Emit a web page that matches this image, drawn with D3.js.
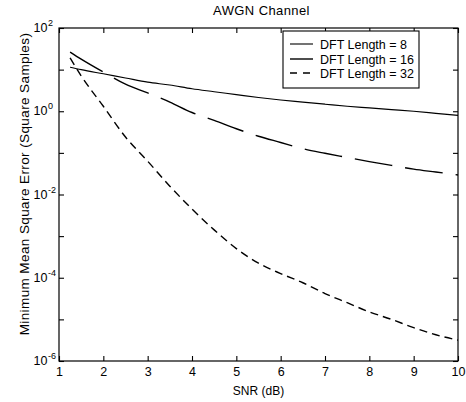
<!DOCTYPE html>
<html><head><meta charset="utf-8">
<script src="https://cdn.jsdelivr.net/npm/d3@7/dist/d3.min.js"></script>
<style>
body{margin:0;background:#fff;}
svg{display:block;font-family:"Liberation Sans",Arial,sans-serif;}
</style></head>
<body><svg id="c" width="466" height="402"></svg>
<script>
// ---- data ----
const snr = [1.25, 1.5, 2, 2.5, 3, 3.5, 4, 4.5, 5, 5.5, 6, 6.5, 7, 7.5, 8, 8.5, 9, 9.5, 10];
const log8  = [1.06, 1.0, 0.9, 0.8, 0.7, 0.63, 0.54, 0.47, 0.4, 0.33, 0.27, 0.22, 0.17, 0.12, 0.08, 0.04, 0.0, -0.05, -0.1];
const log16 = [1.42, 1.25, 0.94, 0.65, 0.44, 0.22, -0.03, -0.22, -0.42, -0.6, -0.75, -0.9, -1.01, -1.11, -1.21, -1.3, -1.39, -1.46, -1.53];
const log32 = [1.28, 0.85, 0.12, -0.62, -1.2, -1.8, -2.35, -2.85, -3.3, -3.65, -3.9, -4.12, -4.38, -4.6, -4.82, -5.0, -5.2, -5.37, -5.5];
const seriesNames = ["DFT Length = 8", "DFT Length = 16", "DFT Length = 32"];
const xTicks = [1, 2, 3, 4, 5, 6, 7, 8, 9, 10];
const yTicks = [1e-6, 1e-5, 1e-4, 1e-3, 1e-2, 1e-1, 1e0, 1e1, 1e2];
const yLabelExps = [-6, -4, -2, 0, 2];
const title = "AWGN Channel";
const xLabel = "SNR (dB)";
const yLabel = "Minimum Mean Square Error (Square Samples)";

// ---- chart ----
const L = 59, R = 458, T = 28, B = 361;
const svg = d3.select("#c");
const x = d3.scaleLinear().domain([1, 10]).range([L, R]);
const y = d3.scaleLog().domain([1e-6, 1e2]).range([B, T]);

const series = [log8, log16, log32].map((arr, i) => ({
  name: seriesNames[i],
  pts: snr.map((s, j) => [s, Math.pow(10, arr[j])])
}));
const styles = [
  {dash: null, w: 1.1},
  {dash: "38,13", w: 1.4},
  {dash: "8,5", w: 1.4}
];

const line = d3.line().x(d => x(d[0])).y(d => y(d[1])).curve(d3.curveMonotoneX);
series.forEach((s, i) => {
  svg.append("path").attr("d", line(s.pts)).attr("fill", "none")
    .attr("stroke", "#000").attr("stroke-width", styles[i].w)
    .attr("stroke-dasharray", styles[i].dash);
});

// axes (inward ticks on all sides)
const ax = (g) => { g.select(".domain").remove(); g.selectAll("line").attr("stroke", "#000").attr("stroke-width", 1.1); };
svg.append("g").attr("transform", `translate(0,${B})`)
  .call(d3.axisBottom(x).tickValues(xTicks).tickSizeInner(-5).tickSizeOuter(0).tickPadding(6).tickFormat(d3.format("d")))
  .call(ax)
  .selectAll("text").attr("font-size", 12.5).attr("fill", "#000").attr("font-family", "Liberation Sans, Arial, sans-serif");
svg.append("g").attr("transform", `translate(0,${T})`)
  .call(d3.axisTop(x).tickValues(xTicks).tickSizeInner(-5).tickSizeOuter(0).tickFormat(""))
  .call(ax);
svg.append("g").attr("transform", `translate(${L},0)`)
  .call(d3.axisLeft(y).tickValues(yTicks).tickSizeInner(-5).tickSizeOuter(0).tickFormat(""))
  .call(ax);
svg.append("g").attr("transform", `translate(${R},0)`)
  .call(d3.axisRight(y).tickValues(yTicks).tickSizeInner(-5).tickSizeOuter(0).tickFormat(""))
  .call(ax);

// y tick labels with superscripts
yLabelExps.forEach(e => {
  svg.append("text").attr("x", 47.5).attr("y", y(Math.pow(10, e)) + 4)
    .attr("text-anchor", "end").attr("font-size", 12.5).attr("fill", "#000").text("10");
  svg.append("text").attr("x", 48).attr("y", y(Math.pow(10, e)) - 2)
    .attr("text-anchor", "start").attr("font-size", 9).attr("fill", "#000").text(String(e));
});

// box
svg.append("rect").attr("x", L).attr("y", T).attr("width", R - L).attr("height", B - T)
  .attr("fill", "none").attr("stroke", "#000").attr("stroke-width", 1.2);

// titles
svg.append("text").attr("x", (L + R) / 2 + 3).attr("y", 15).attr("text-anchor", "middle")
  .attr("font-size", 13).attr("letter-spacing", 0.4).text(title);
svg.append("text").attr("x", (L + R) / 2).attr("y", 395).attr("text-anchor", "middle")
  .attr("font-size", 12).text(xLabel);
svg.append("text").attr("transform", `translate(29,${184}) rotate(-90)`).attr("text-anchor", "middle")
  .attr("font-size", 13.5).attr("letter-spacing", 0.4).text(yLabel);

// legend
const lg = svg.append("g");
lg.append("rect").attr("x", 283).attr("y", 31).attr("width", 136).attr("height", 57)
  .attr("fill", "#fff").attr("stroke", "#000").attr("stroke-width", 1.1);
const rowsY = [44, 59, 73];
series.forEach((s, i) => {
  lg.append("line").attr("x1", 290).attr("x2", 313).attr("y1", rowsY[i]).attr("y2", rowsY[i])
    .attr("stroke", "#000").attr("stroke-width", styles[i].w)
    .attr("stroke-dasharray", i === 2 ? "7,6" : styles[i].dash);
  lg.append("text").attr("x", 320).attr("y", rowsY[i] + 4.5).attr("font-size", 12.5).text(s.name);
});
</script></body></html>
